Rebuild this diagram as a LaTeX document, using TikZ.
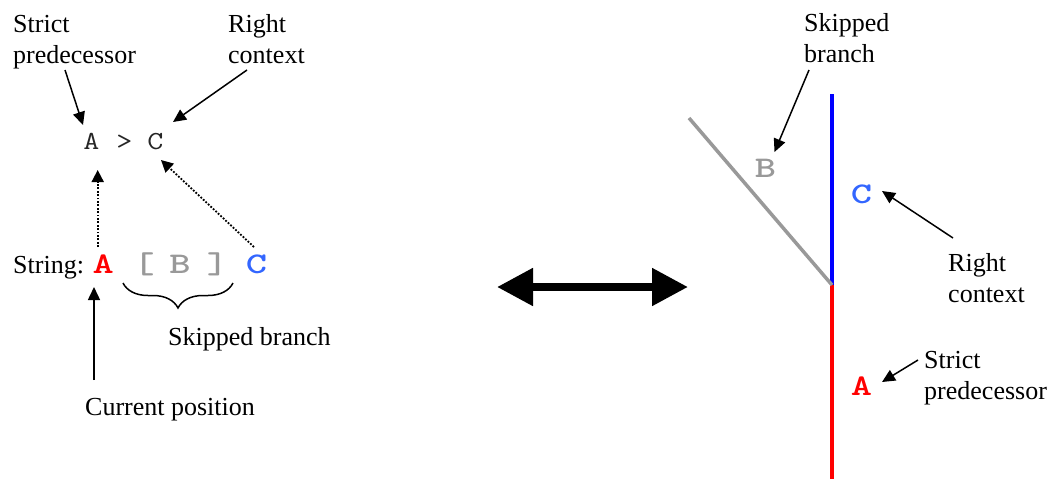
\documentclass[tikz,border=0pt]{standalone}
\usepackage{fontspec}
\setmainfont{Liberation Serif}
\usetikzlibrary{arrows.meta,calc,decorations.pathreplacing}
\definecolor{ltgray}{HTML}{999999}
\definecolor{cblue}{HTML}{3366FF}
\definecolor{lblue}{HTML}{0000FF}
\definecolor{lred}{HTML}{FF0000}
\newcommand{\widetx}[2]{\scalebox{#1}[1]{#2}}
\tikzset{
  lbl/.style={font=\fontsize{26}{31}\selectfont, align=left, inner sep=0pt, anchor=base west},
  monoreg/.style={font=\fontsize{26}{30}\selectfont\ttfamily, inner sep=0pt, anchor=base, text=black!85},
  monobold/.style={font=\fontsize{30}{34}\selectfont\ttfamily\bfseries, inner sep=0pt, anchor=base},
  ptr/.style={line width=1.5pt, -{Triangle[length=13pt,width=12pt]}},
  dotptr/.style={line width=1.8pt, dash pattern=on 1.8pt off 1.6pt, -{Triangle[length=12pt,width=12pt]}},
}
\begin{document}
\begin{tikzpicture}[x=1pt,y=-1pt]
\useasboundingbox (0,0) rectangle (1054,479);
% ---------- left part ----------
\node[lbl] (lsp) at (13,63) {Strict\\predecessor};
\node[lbl] (lrc) at (228,63) {Right\\context};
\node[monoreg] (a1) at (91.5,149) {\widetx{1.2}{A}};
\node[monoreg] (gt) at (124.5,149) {\widetx{1.2}{>}};
\node[monoreg] (c1) at (155.5,149) {\widetx{1.2}{C}};
\node[lbl] (str) at (13,273) {String:};
\node[monobold, text=lred] (sA) at (103.3,273) {\widetx{1.35}{A}};
\node[monobold, text=ltgray] (lb) at (144,273) {\widetx{1.35}{[}};
\node[monobold, text=ltgray] (sB) at (180,273) {\widetx{1.35}{B}};
\node[monobold, text=ltgray] (rb) at (217.5,273) {\widetx{1.35}{]}};
\node[monobold, text=cblue] (sC) at (256.5,273) {\widetx{1.35}{C}};
\node[lbl] (sb) at (168,345) {Skipped branch};
\node[lbl] (cp) at (85,415) {Current position};
\draw[ptr] ($(lsp.base west)+(52,7)$) -- ($(a1.base)+(-8.5,-24)$);
\draw[ptr] ($(lrc.base west)+(19,7)$) -- ($(c1.base)+(17.5,-27)$);
\draw[dotptr] ($(sA.base)+(-5.6,-26)$) -- ($(a1.base)+(6.2,21)$);
\draw[dotptr] ($(sC.base)+(-2.5,-26)$) -- ($(c1.base)+(5.5,11)$);
\draw[ptr] ($(cp.base west)+(9,-35)$) -- ($(sA.base)+(-9.3,14)$);
\draw[line width=1.5pt, decorate, decoration={brace, mirror, amplitude=25pt, aspect=0.5}]
  ($(lb.base)+(-21,10)$) -- ($(rb.base)+(15.5,10)$);
% ---------- middle double arrow ----------
\coordinate (dl) at (497,287);
\coordinate (dr) at (688,287);
\draw[line width=8pt, {Triangle[length=36pt,width=36pt]}-{Triangle[length=36pt,width=36pt]}] (dl) -- (dr);
% ---------- right part ----------
\coordinate (vtop) at (832,94);
\coordinate (vj) at (832,285);
\coordinate (vbot) at (832,479);
\coordinate (gend) at (689,118);
\draw[lblue, line width=4pt] (vtop) -- (vj);
\draw[lred, line width=4pt] (vj) -- (vbot);
\draw[ltgray, line width=3.5pt] (gend) -- (vj);
\node[monobold, text=ltgray] (rB) at (765.5,177) {\widetx{1.35}{B}};
\node[monobold, text=cblue] (rC) at (861.5,203) {\widetx{1.35}{C}};
\node[monobold, text=lred] (rA) at (861.5,395) {\widetx{1.35}{A}};
\node[lbl] (rsb) at (804,62) {Skipped\\branch};
\node[lbl] (rrc) at (948,302) {Right\\context};
\node[lbl] (rsp) at (924,399) {Strict\\predecessor};
\draw[ptr] ($(rsb.base west)+(5,8)$) -- ($(rB.base)+(9,-25)$);
\draw[ptr] ($(rrc.base west)+(5,-64)$) -- ($(rC.base)+(20.5,-12)$);
\draw[ptr] ($(rsp.base west)+(-6,-39)$) -- ($(rA.base)+(20.5,-13)$);
\end{tikzpicture}
\end{document}
